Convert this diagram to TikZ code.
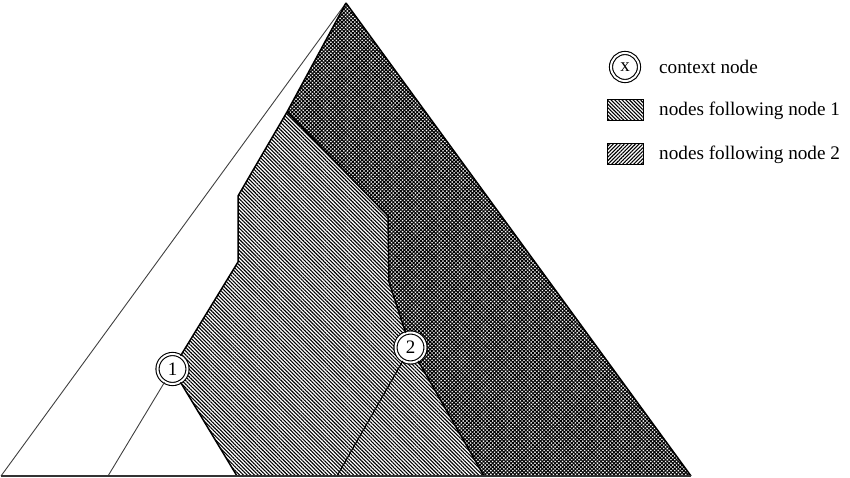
\documentclass[tikz,border=0pt]{standalone}
\usepackage{fontspec}
\setmainfont{Liberation Serif}
\usetikzlibrary{patterns.meta}
\begin{document}
\begin{tikzpicture}[x=1pt,y=-1pt,
  thinedge/.style={draw=black!75,line width=0.9pt},
  thickedge/.style={draw=black,line width=1.5pt},
  nwfill/.style={pattern={Lines[angle=-45,distance=2.6pt,line width=1.1pt]}},
  nefill/.style={pattern={Lines[angle=45,distance=2.6pt,line width=1.1pt]}},
  treenode/.style={circle,draw=black,line width=1.1pt,double=white,double distance=2pt,fill=white,minimum size=30pt,inner sep=0pt,font=\fontsize{19}{19}\selectfont},
  legtext/.style={anchor=west,font=\fontsize{19.2}{20}\selectfont,inner sep=0pt}]
\useasboundingbox (0,0) rectangle (850,478);
% vertices
\coordinate (A) at (346,3);
\coordinate (BL) at (1,476);
\coordinate (BR) at (691,476);
\coordinate (P) at (287,112);
\coordinate (Q) at (238,196);
\coordinate (R) at (238,262);
\coordinate (S) at (388,216);
\coordinate (T) at (389,282);
\coordinate (N1L) at (108,476);
\coordinate (N1R) at (237,476);
\coordinate (N2L) at (337,476);
\coordinate (N2R) at (484,476);
\coordinate (n1c) at (172.5,369);
\coordinate (n2c) at (410.5,347.5);
% fills
\fill[nwfill] (A) -- (P) -- (Q) -- (R) -- (n1c) -- (N1R) -- (BR) -- cycle;
\fill[nefill] (A) -- (P) -- (S) -- (T) -- (n2c) -- (N2R) -- (BR) -- cycle;
% nodes
\node[treenode] (n1) at (n1c) {1};
\node[treenode] (n2) at (n2c) {2};
% edges
\draw[thinedge] (A) -- (BL);
\draw[thinedge] (n1) -- (N1L);
\draw[thickedge] (A) -- (BR);
\draw[thickedge,line join=miter] (A) -- (P) -- (Q) -- (R) -- (n1);
\draw[thickedge] (n1) -- (N1R);
\draw[thickedge,line join=miter] (P) -- (S) -- (T) -- (n2);
\draw[thickedge] (n2) -- (N2R);
\draw[draw=black,line width=1.1pt] (n2) -- (N2L);
\draw[draw=black!80,line width=2pt] (BL) -- (BR);
% legend
\node[treenode,minimum size=28pt] (lx) at (625,67) {x};
\node[legtext] (lt1) at (659,67) {context node};
\draw[line width=1pt,nwfill] (607,100) rectangle (643,121);
\node[legtext] (lt2) at (659,110.5) {nodes following node 1};
\draw[line width=1pt,nefill] (607,144) rectangle (643,165);
\node[legtext] (lt3) at (659,154.5) {nodes following node 2};
\end{tikzpicture}
\end{document}
